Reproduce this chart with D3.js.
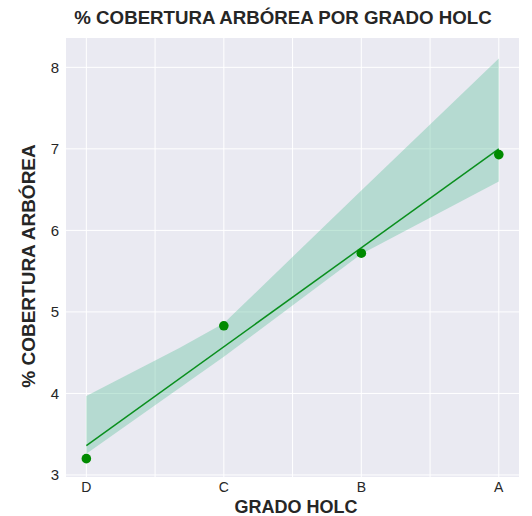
<!DOCTYPE html>
<html><head><meta charset="utf-8">
<script src="https://cdn.jsdelivr.net/npm/d3@7"></script>
<style>body{margin:0;background:#fff}svg{display:block}</style>
</head><body>
<script>
const categories = ["D","C","B","A"];
const values = [3.20, 4.83, 5.72, 6.93];
const fitLine = [3.36, 7.00];           // regression at D and A
const ciUpper = [3.97, 4.56, 4.86, 6.49, 8.11];
const ciLower = [3.26, 4.07, 4.45, 5.71, 6.60];
const ciX = [0, 0.68, 1, 2, 3];
const yTicks = [3,4,5,6,7,8];
const xGrid = [0,0.5,1,1.5,2,2.5,3];

const W=532,H=516;
const m={l:66,r:13,t:38,b:39};
const svg=d3.select("body").append("svg").attr("width",W).attr("height",H);
const x=d3.scaleLinear().domain([-0.148,3.147]).range([m.l,W-m.r]);
const y=d3.scaleLinear().domain([2.975,8.36]).range([H-m.b,m.t]);

svg.append("rect").attr("x",m.l).attr("y",m.t).attr("width",W-m.r-m.l).attr("height",H-m.b-m.t).attr("fill","#EAEAF2");
const g=svg.append("g");
g.selectAll(".hg").data(yTicks).join("line").attr("x1",m.l).attr("x2",W-m.r).attr("y1",d=>y(d)).attr("y2",d=>y(d)).attr("stroke","#fff").attr("stroke-width",1);
g.selectAll(".vg").data(xGrid).join("line").attr("y1",m.t).attr("y2",H-m.b).attr("x1",d=>x(d)).attr("x2",d=>x(d)).attr("stroke","#fff").attr("stroke-width",1);

const band=ciX.map((d,i)=>({x:d,lo:ciLower[i],hi:ciUpper[i]}));
svg.append("path").datum(band).attr("d",d3.area().x(d=>x(d.x)).y0(d=>y(d.lo)).y1(d=>y(d.hi))).attr("fill","#5fbf9a").attr("fill-opacity",0.38);
svg.append("path").datum([[0,fitLine[0]],[3,fitLine[1]]]).attr("d",d3.line().x(d=>x(d[0])).y(d=>y(d[1]))).attr("stroke","#0a8f1e").attr("stroke-width",1.5).attr("fill","none");
svg.selectAll(".pt").data(values).join("circle").attr("cx",(d,i)=>x(i)).attr("cy",d=>y(d)).attr("r",4.8).attr("fill","#008a00");

const font="Liberation Sans, Arial, sans-serif";
svg.selectAll(".yt").data(yTicks).join("text").attr("x",59).attr("y",d=>y(d)).attr("dy","0.35em").attr("text-anchor","end").attr("font-family",font).attr("font-size",15).attr("fill","#262626").text(d=>d);
svg.selectAll(".xt").data(categories).join("text").attr("x",(d,i)=>x(i)).attr("y",492).attr("text-anchor","middle").attr("font-family",font).attr("font-size",14).attr("fill","#262626").text(d=>d);
svg.append("text").attr("x",296).attr("y",513).attr("text-anchor","middle").attr("font-family",font).attr("font-weight","bold").attr("font-size",18).attr("fill","#262626").text("GRADO HOLC");
svg.append("text").attr("transform","translate(35,266) rotate(-90)").attr("text-anchor","middle").attr("font-family",font).attr("font-weight","bold").attr("font-size",19).attr("fill","#262626").text("% COBERTURA ARBÓREA");
svg.append("text").attr("x",283).attr("y",24).attr("text-anchor","middle").attr("font-family",font).attr("font-weight","bold").attr("font-size",18.7).attr("fill","#262626").text("% COBERTURA ARBÓREA POR GRADO HOLC");
</script>
</body></html>
